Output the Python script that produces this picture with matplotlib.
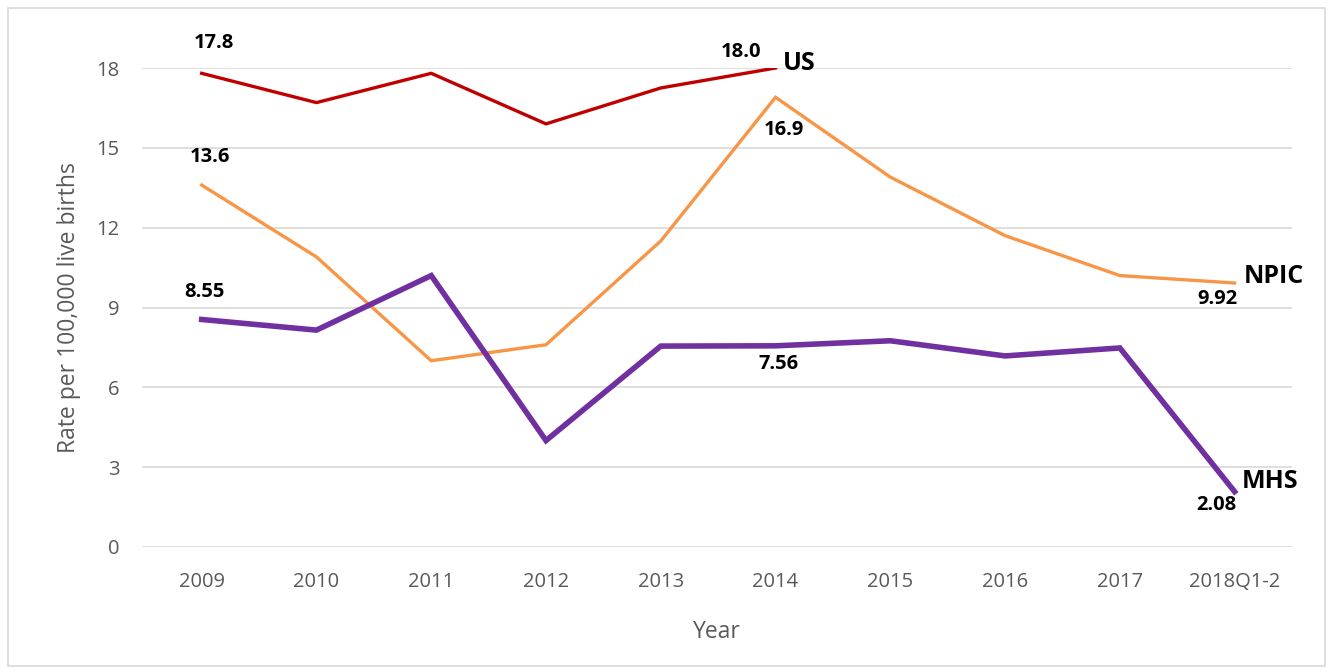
import matplotlib
matplotlib.use("Agg")
import matplotlib.pyplot as plt
from matplotlib.patches import Rectangle

categories = ["2009", "2010", "2011", "2012", "2013", "2014", "2015", "2016", "2017", "2018Q1-2"]
us = [17.8, 16.7, 17.8, 15.9, 17.25, 18.0]
npic = [13.6, 10.9, 7.0, 7.6, 11.5, 16.9, 13.9, 11.7, 10.2, 9.92]
mhs = [8.55, 8.15, 10.2, 4.0, 7.55, 7.56, 7.75, 7.18, 7.48, 2.08]
yticks = [0, 3, 6, 9, 12, 15, 18]

plt.rcParams['font.family'] = ['Open Sans', 'DejaVu Sans']

fig = plt.figure(figsize=(13.31, 6.72), dpi=100)
ax = fig.add_axes([142/1331, 1-547/672, (1292-142)/1331, (547-68)/672])

fig.patches.append(Rectangle((8/1331, 6/672), 1317/1331, 658/672, transform=fig.transFigure,
                             fill=False, edgecolor='#d9d9d9', linewidth=1.2))

x_all = list(range(len(categories)))
ax.plot(x_all[:len(us)], us, color='#C00000', linewidth=2.4, solid_joinstyle='miter', zorder=3)
ax.plot(x_all, npic, color='#F79646', linewidth=2.4, solid_joinstyle='miter', zorder=3)
ax.plot(x_all, mhs, color='#7030A0', linewidth=4.0, solid_joinstyle='miter', zorder=4)

ax.set_xlim(-0.52, 9.5)
ax.set_ylim(0, 18)
ax.set_yticks(yticks)
ax.set_xticks(x_all)
ax.set_xticklabels(categories)
ax.yaxis.grid(True, color='#d9d9d9', linewidth=1.2)
ax.set_axisbelow(True)
for s in ax.spines.values():
    s.set_visible(False)
ax.tick_params(axis='both', length=0, colors='#595959', labelsize=14.5)
ax.tick_params(axis='x', pad=18)
ax.tick_params(axis='y', pad=16)
ax.set_xlabel("Year", color='#595959', fontsize=16.5, labelpad=20)
ax.set_ylabel("Rate per 100,000 live births", color='#595959', fontsize=16.5, labelpad=11)

def lab(x, y, text, dx, dy, ha='center', size=14.5):
    ax.annotate(text, (x, y), xytext=(dx, dy), textcoords='offset pixels',
                ha=ha, va='center', fontsize=size, fontweight='bold', color='black', zorder=6)

lab(0, us[0], "17.8", 12, 30)
lab(0, npic[0], "13.6", 8, 28)
lab(0, mhs[0], "8.55", 3, 27)
lab(5, us[5], "18.0", -35, 16)
lab(5, us[5], "US", 7, 5, ha='left', size=18)
lab(5, npic[5], "16.9", 8, -33)
lab(5, mhs[5], "7.56", 3, -18)
lab(9, npic[9], "NPIC", 9, 7, ha='left', size=18)
lab(9, npic[9], "9.92", -17, -16)
lab(9, mhs[9], "MHS", 7, 10, ha='left', size=18)
lab(9, mhs[9], "2.08", -18, -13)

fig.savefig("out.png", dpi=100)
